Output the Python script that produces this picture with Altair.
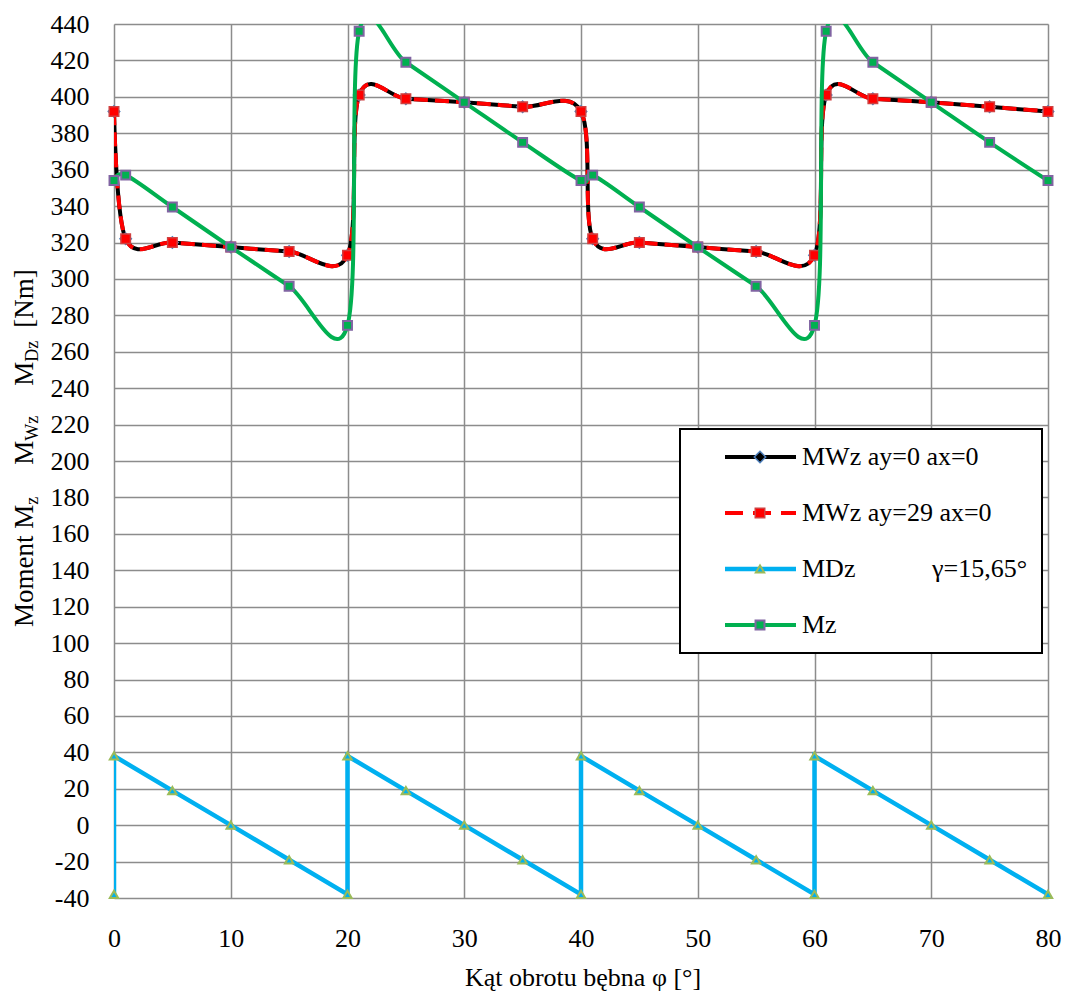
import altair as alt
import pandas as pd

# ---------------- data ----------------
angle_main = [0, 1, 5, 10, 15, 20, 21, 25, 30, 35, 40, 41, 45, 50, 55, 60, 61, 65, 70, 75, 80]
mwz_ay0 = [392, 322, 320, 317.5, 315, 313, 401, 399, 397, 394.5, 392,
           322, 320, 317.5, 315, 313, 401, 399, 397, 394.5, 392]
mwz_ay29 = [392, 322, 320, 317.5, 315, 313, 401, 399, 397, 394.5, 392,
            322, 320, 317.5, 315, 313, 401, 399, 397, 394.5, 392]
mz = [354, 357, 339.5, 317.5, 296, 274.5, 436, 419, 397, 375, 354,
      357, 339.5, 317.5, 296, 274.5, 436, 419, 397, 375, 354]
angle_mdz = [0, 0, 5, 10, 15, 20, 20, 25, 30, 35, 40, 40, 45, 50, 55, 60, 60, 65, 70, 75, 80]
mdz = [-38, 38, 19, 0, -19, -38, 38, 19, 0, -19, -38, 38, 19, 0, -19, -38, 38, 19, 0, -19, -38]

series_names = ["MWz ay=0 ax=0", "MWz ay=29 ax=0", "MDz", "Mz"]
x_ticks = list(range(0, 81, 10))
y_ticks = list(range(-40, 441, 20))
x_title = "Kąt obrotu bębna φ [°]"
# (text, is_subscript, gap after in px)
y_title_parts = [("Moment M", False, 0), ("z", True, 32), ("M", False, 0), ("Wz", True, 30),
                 ("M", False, 0), ("Dz", True, 13), ("[Nm]", False, 0)]
gamma_text = "γ=15,65°"

# ---------------- styling ----------------
FONT = "'Liberation Serif', 'Times New Roman', Times, serif"
FS = 26
TFS = 27
SUB_FS = 18
GRID = "#8c8c8c"
W, H = 934, 874
PAD_L, PAD_T = 106, 16

xs = alt.Scale(domain=[0, 80], nice=False, zero=False)
ys = alt.Scale(domain=[-40, 440], nice=False, zero=False)

x_axis = alt.Axis(values=x_ticks, grid=True, gridColor=GRID, gridWidth=1.5, domain=False,
                  ticks=False, labelFont=FONT, labelFontSize=FS, labelColor="black",
                  labelPadding=40, labelBaseline="middle", labelFlush=False, title=None,
                  labelExpr="'' + datum.value")
y_axis = alt.Axis(values=y_ticks, grid=True, gridColor=GRID, gridWidth=1.5, domain=False,
                  ticks=False, labelFont=FONT, labelFontSize=FS, labelColor="black",
                  labelPadding=25, labelBaseline="middle", labelAlign="right", labelFlush=False,
                  title=None, labelExpr="'' + datum.value", labelOverlap=False)


def frame(xv, yv):
    return pd.DataFrame({"x": xv, "y": yv, "i": list(range(len(xv)))})


def enc(chart):
    return chart.encode(
        x=alt.X("x:Q", scale=xs, axis=x_axis),
        y=alt.Y("y:Q", scale=ys, axis=y_axis),
        order="i:Q",
    )


df_w0 = frame(angle_main, mwz_ay0)
df_w29 = frame(angle_main, mwz_ay29)
df_mz = frame(angle_main, mz)
df_md = frame(angle_mdz, mdz)

# series 1: MWz ay=0 (black line, blue-edged black diamonds)
l_w0 = enc(alt.Chart(df_w0).mark_line(color="black", strokeWidth=4, interpolate="cardinal", clip=True))
p_w0 = enc(alt.Chart(df_w0).mark_point(shape="diamond", filled=True, fill="black", stroke="#4F81BD",
                                       strokeWidth=1.5, size=130, opacity=1))
# series 2: MWz ay=29 (red dashed line, red squares)
l_w29 = enc(alt.Chart(df_w29).mark_line(color="#FF0000", strokeWidth=4, strokeDash=[14, 7],
                                        interpolate="cardinal", clip=True))
p_w29 = enc(alt.Chart(df_w29).mark_point(shape="square", filled=True, fill="#FF0000", stroke="#D04040",
                                         strokeWidth=1.5, size=90, opacity=1))
# series 3: MDz (light blue straight line, triangles)
l_md = enc(alt.Chart(df_md).mark_line(color="#00B0F0", strokeWidth=4.5, clip=True))
p_md = enc(alt.Chart(df_md).mark_point(shape="triangle-up", filled=True, fill="#00B0F0", stroke="#9BBB59",
                                       strokeWidth=2, size=70, opacity=1))
# series 4: Mz (green line, purple-edged green squares)
l_mz = enc(alt.Chart(df_mz).mark_line(color="#00B050", strokeWidth=4, interpolate="cardinal", clip=True))
p_mz = enc(alt.Chart(df_mz).mark_point(shape="square", filled=True, fill="#00B050", stroke="#8064A2",
                                       strokeWidth=2, size=80, opacity=1))

one = pd.DataFrame({"k": [0]})

# ---------------- legend (manual, inside plot) ----------------
LX0, LY0, LX1, LY1 = 566, 405, 928, 629
legend_layers = [
    alt.Chart(one).mark_rect(fill="white", stroke="black", strokeWidth=2).encode(
        x=alt.value(LX0), x2=alt.value(LX1), y=alt.value(LY0), y2=alt.value(LY1))
]
item_y0, item_dy = 433, 56
line_x0, line_x1, mark_x, text_x = 611, 682, 646, 688
line_styles = [
    dict(color="black", strokeWidth=4),
    dict(color="#FF0000", strokeWidth=4, strokeDash=[18, 10]),
    dict(color="#00B0F0", strokeWidth=4.5),
    dict(color="#00B050", strokeWidth=4),
]
point_styles = [
    dict(shape="diamond", filled=True, fill="black", stroke="#4F81BD", strokeWidth=1.5, size=130, opacity=1),
    dict(shape="square", filled=True, fill="#FF0000", stroke="#D04040", strokeWidth=1.5, size=90, opacity=1),
    dict(shape="triangle-up", filled=True, fill="#00B0F0", stroke="#9BBB59", strokeWidth=2, size=70, opacity=1),
    dict(shape="square", filled=True, fill="#00B050", stroke="#8064A2", strokeWidth=2, size=80, opacity=1),
]
for k, name in enumerate(series_names):
    yy = item_y0 + k * item_dy
    legend_layers.append(alt.Chart(one).mark_rule(**line_styles[k]).encode(
        x=alt.value(line_x0), x2=alt.value(line_x1), y=alt.value(yy)))
    legend_layers.append(alt.Chart(one).mark_point(**point_styles[k]).encode(
        x=alt.value(mark_x), y=alt.value(yy)))
    legend_layers.append(alt.Chart(pd.DataFrame({"t": [name]})).mark_text(
        font=FONT, fontSize=FS, align="left", baseline="middle", color="black").encode(
        x=alt.value(text_x), y=alt.value(yy), text="t:N"))

legend_layers.append(alt.Chart(pd.DataFrame({"t": [gamma_text]})).mark_text(
    font=FONT, fontSize=FS, align="left", baseline="middle", color="black").encode(
    x=alt.value(818), y=alt.value(item_y0 + 2 * item_dy), text="t:N"))

# ---------------- axis titles ----------------
title_layers = [
    alt.Chart(pd.DataFrame({"t": [x_title]})).mark_text(
        font=FONT, fontSize=FS, align="center", baseline="middle", color="black").encode(
        x=alt.value(469), y=alt.value(954), text="t:N")
]

adv = {"M": .889, "o": .5, "m": .778, "e": .444, "n": .5, "t": .278, " ": .25, "z": .444,
       "W": .944, "D": .722, "[": .333, "N": .722, "]": .333}
pos_y = 603.0       # bottom start of rotated title (chart px)
base_x = -81.0      # baseline position of rotated title
for txt, sub, gap in y_title_parts:
    fs = SUB_FS if sub else TFS
    title_layers.append(alt.Chart(pd.DataFrame({"t": [txt]})).mark_text(
        font=FONT, fontSize=fs, align="left", baseline="alphabetic", angle=270, color="black").encode(
        x=alt.value(base_x + (5 if sub else 0)), y=alt.value(pos_y), text="t:N"))
    pos_y -= sum(adv.get(c, .5) for c in txt) * fs + gap

chart = alt.layer(
    l_w0, p_w0, l_w29, p_w29, l_md, p_md, l_mz, p_mz,
    *legend_layers, *title_layers
).properties(
    width=W, height=H,
    autosize=alt.AutoSizeParams(type="none"),
    padding={"left": PAD_L, "top": PAD_T, "right": 15, "bottom": 110},
).configure_view(stroke=None).configure(background="white")

chart.save("out.html", embed_options={"renderer": "svg", "actions": False})
